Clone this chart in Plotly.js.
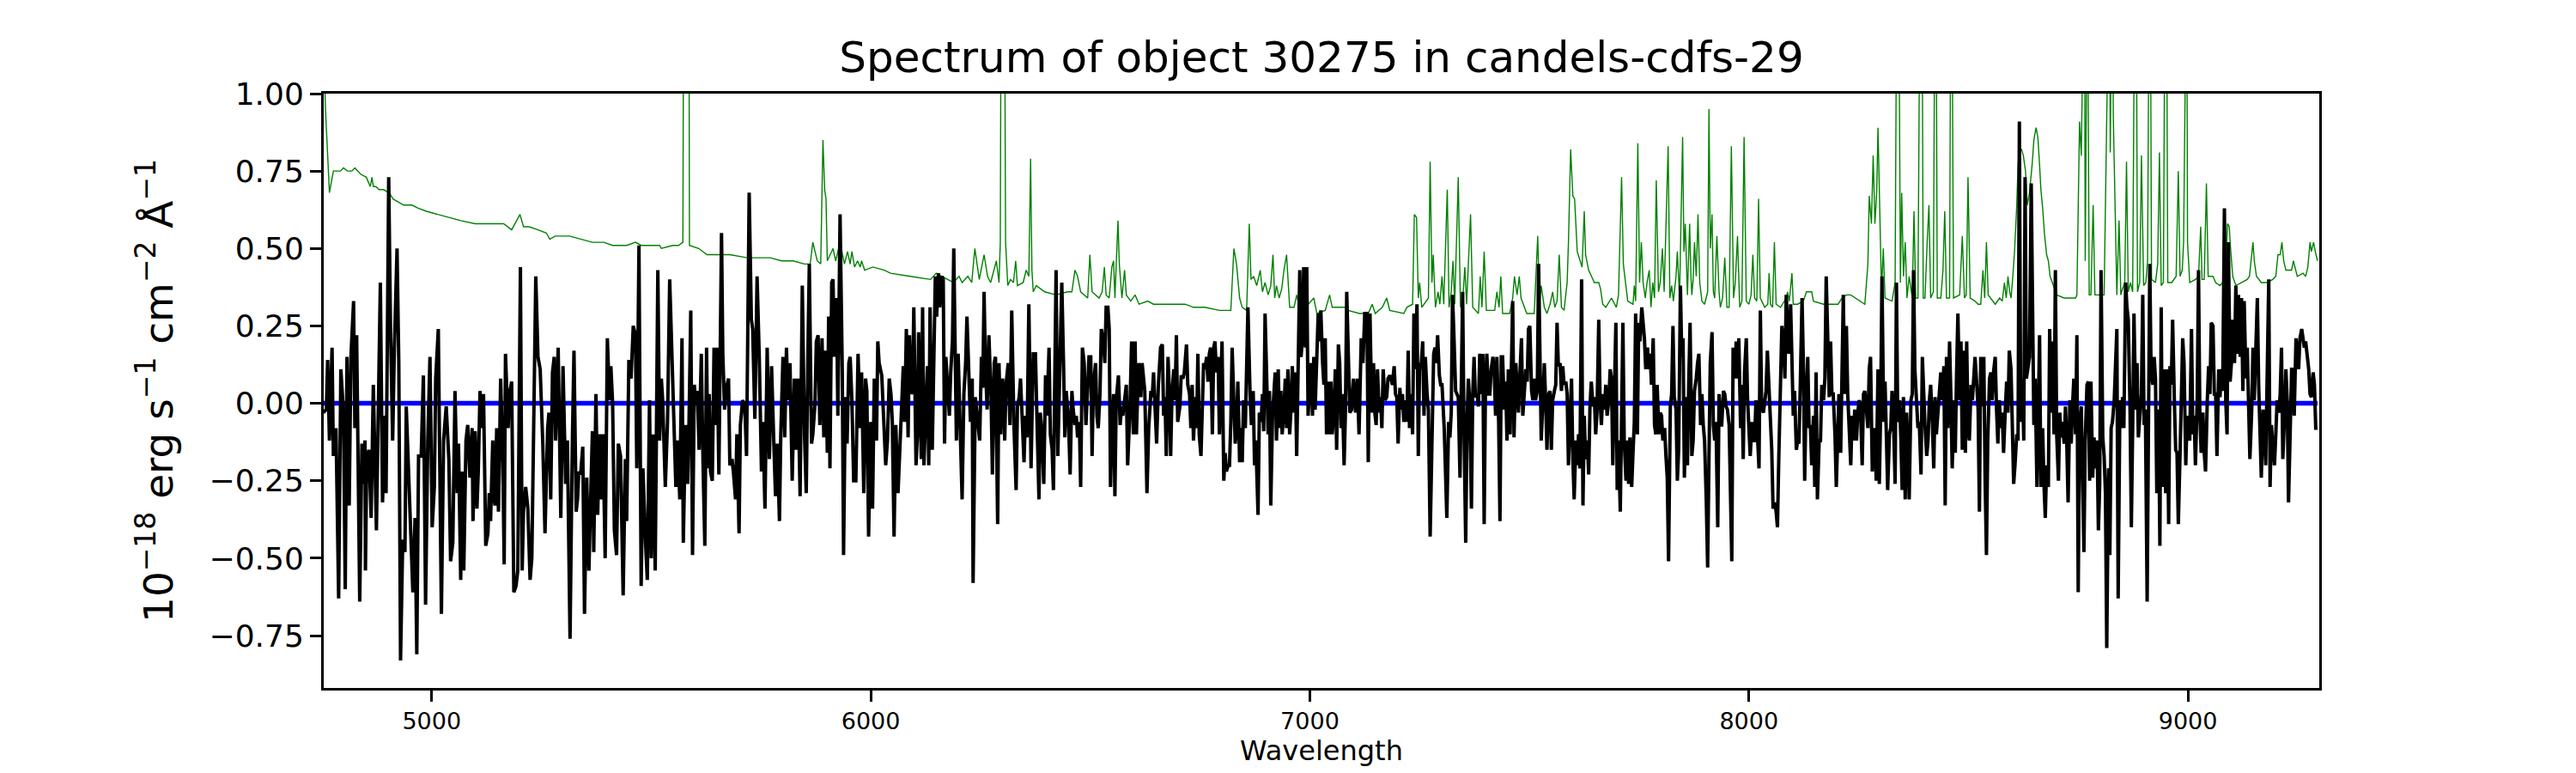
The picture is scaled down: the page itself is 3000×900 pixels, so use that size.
<!DOCTYPE html>
<html>
<head>
<meta charset="utf-8">
<script src="https://cdn.plot.ly/plotly-3.0.1.min.js"></script>
<style>html,body{margin:0;padding:0;background:#fff;}#chart{width:3000px;height:900px;}</style>
</head>
<body>
<div id="chart"></div>
<script>
// Object spectrum: [wavelength (Å), flux (1e-18 erg/s/cm2/Å)]
const objectSpectrum = [
[4753,-0.03],[4760,-0.02],[4763,0.14],[4767,-0.12],[4773,0.18],[4776,-0.17],[4782,-0.08],[4788,-0.63],[4793,0.11],[4799,-0.03],
[4803,-0.60],[4807,0.15],[4812,-0.33],[4816,0.15],[4822,0.33],[4825,-0.08],[4829,0.22],[4836,-0.64],[4841,-0.13],[4844,-0.26],
[4848,-0.12],[4849,-0.54],[4852,-0.18],[4857,-0.15],[4862,-0.37],[4867,0.06],[4874,-0.41],[4877,-0.10],[4883,0.39],[4888,-0.32],
[4893,-0.04],[4896,-0.29],[4902,0.73],[4906,0.26],[4911,-0.12],[4915,0.18],[4921,0.50],[4925,0.13],[4929,-0.83],[4934,-0.44],
[4939,-0.48],[4942,-0.01],[4949,-0.29],[4952,-0.43],[4957,-0.61],[4962,-0.37],[4966,-0.81],[4970,-0.17],[4976,-0.17],[4981,0.09],
[4986,-0.65],[4991,-0.12],[4996,0.15],[5001,-0.40],[5006,-0.27],[5009,0.08],[5015,0.24],[5022,-0.68],[5027,-0.12],[5033,-0.01],
[5039,-0.18],[5043,-0.51],[5048,-0.45],[5053,0.04],[5058,-0.29],[5061,-0.13],[5066,-0.57],[5069,-0.22],[5073,-0.54],[5078,-0.12],
[5082,-0.07],[5087,-0.24],[5092,-0.08],[5094,-0.38],[5099,-0.09],[5103,-0.34],[5106,-0.22],[5110,0.04],[5113,-0.08],[5118,0.03],
[5123,-0.46],[5128,-0.42],[5131,-0.29],[5134,-0.38],[5139,-0.12],[5141,-0.29],[5144,-0.33],[5148,-0.08],[5152,-0.35],[5157,0.08],
[5162,-0.19],[5165,-0.52],[5168,0.16],[5174,-0.08],[5177,0.03],[5182,0.07],[5187,-0.61],[5192,-0.59],[5196,-0.54],[5202,0.44],
[5206,-0.54],[5209,-0.35],[5214,-0.27],[5219,-0.34],[5224,-0.57],[5228,-0.50],[5232,-0.06],[5237,0.41],[5242,0.15],[5247,0.11],
[5253,-0.13],[5258,-0.42],[5264,-0.08],[5267,-0.03],[5271,-0.31],[5275,0.10],[5279,0.15],[5282,-0.12],[5288,0.18],[5291,-0.13],
[5294,-0.37],[5299,0.12],[5305,-0.26],[5309,-0.12],[5315,-0.76],[5320,-0.15],[5324,0.17],[5329,-0.35],[5332,-0.31],[5335,-0.22],
[5339,-0.23],[5344,-0.14],[5348,-0.68],[5353,-0.24],[5358,-0.54],[5363,-0.25],[5366,-0.09],[5369,-0.48],[5374,0.03],[5378,-0.36],
[5382,-0.10],[5385,-0.31],[5390,-0.10],[5395,-0.50],[5400,0.21],[5405,0.01],[5408,0.12],[5412,0.00],[5416,-0.41],[5421,-0.49],
[5425,-0.13],[5430,-0.17],[5436,-0.62],[5441,-0.18],[5444,-0.38],[5449,0.14],[5454,0.08],[5459,0.25],[5464,0.22],[5467,-0.21],
[5472,0.51],[5477,-0.59],[5481,-0.21],[5487,-0.45],[5491,-0.57],[5496,0.01],[5500,-0.50],[5504,-0.10],[5509,-0.54],[5515,0.43],
[5519,-0.12],
[5523,0.08],[5526,0.01],[5532,-0.27],[5537,-0.06],[5542,0.40],[5547,0.13],[5552,-0.12],[5556,-0.27],[5560,-0.12],[5565,-0.31],
[5570,0.21],[5573,-0.45],[5578,-0.07],[5583,-0.26],[5586,-0.06],[5590,0.30],[5594,-0.49],[5598,0.06],[5601,0.01],[5605,0.04],
[5609,-0.15],[5614,0.16],[5618,-0.20],[5622,-0.46],[5626,0.18],[5629,-0.21],[5632,0.03],[5635,-0.22],[5639,-0.25],[5643,0.18],
[5646,-0.07],[5650,0.18],[5654,-0.23],[5660,0.55],[5663,0.16],[5667,-0.02],[5671,0.05],[5676,0.08],[5679,-0.20],[5684,-0.18],
[5687,-0.22],[5692,-0.31],[5695,-0.10],[5700,-0.42],[5703,-0.07],[5708,0.01],[5713,-0.01],[5717,-0.17],[5723,0.68],[5728,0.27],
[5731,0.24],[5736,-0.05],[5741,0.41],[5746,0.15],[5751,-0.22],[5754,-0.06],[5759,-0.34],[5764,0.18],[5769,-0.18],[5774,0.12],
[5779,-0.12],[5783,-0.30],[5787,-0.13],[5792,-0.38],[5795,-0.10],[5800,0.15],[5804,-0.11],[5808,0.18],[5811,0.01],[5816,0.13],
[5821,-0.25],[5826,0.08],[5830,-0.15],[5834,0.08],[5839,-0.30],[5844,0.38],[5849,-0.10],[5853,-0.29],[5857,0.18],[5860,0.45],
[5865,-0.13],[5868,-0.10],[5873,0.00],[5876,0.20],[5880,0.22],[5884,-0.07],[5889,0.21],[5893,-0.11],[5897,0.17],[5901,-0.16],
[5904,0.28],[5907,-0.21],[5911,0.39],[5914,0.40],[5917,0.15],[5922,0.34],[5925,-0.04],[5930,0.61],[5935,0.11],[5938,-0.49],
[5942,0.02],[5946,-0.13],[5950,0.13],[5953,0.15],[5957,0.01],[5961,-0.25],[5966,-0.25],[5971,0.16],[5976,-0.08],[5979,0.10],
[5984,-0.29],[5988,0.08],[5991,0.04],[5995,-0.43],[6000,-0.06],[6004,-0.34],[6008,0.08],[6013,-0.12],[6016,0.20],[6019,0.13],
[6025,0.09],[6030,-0.10],[6034,-0.20],[6038,-0.12],[6042,0.08],[6046,0.03],[6049,-0.06],[6053,-0.43],[6057,-0.07],[6062,-0.29],
[6067,-0.12],[6070,0.01],[6074,0.12],[6077,-0.06],[6081,0.24],[6085,-0.11],[6088,0.22],[6092,0.03],[6095,0.04],[6098,0.31],
[6103,-0.20],[6106,-0.11],[6109,0.23],[6115,-0.18],[6118,0.31],[6121,-0.20],[6126,0.01],[6129,0.12],[6132,-0.20],[6135,0.31],
[6140,-0.15],[6144,0.15],[6147,0.41],[6150,0.28],[6154,0.42],[6157,0.31],[6162,0.41],[6165,0.40],[6168,-0.13],[6171,0.15],
[6175,0.06],[6179,-0.04],[6182,0.10],[6186,0.20],[6189,0.50],[6192,0.16],[6195,-0.12],[6199,0.16],[6204,-0.16],[6208,-0.31],
[6212,0.03],[6216,0.13],[6219,0.28],[6223,0.06],[6227,-0.06],[6231,0.08],[6233,-0.58],[6238,0.02],[6243,-0.04],[6248,-0.12],
[6252,0.15],[6255,0.05],[6258,0.36],[6261,0.13],[6265,-0.02],[6269,0.22],[6274,0.02],[6277,-0.23],[6281,0.13],[6284,0.15],
[6289,-0.39],[6292,0.13],[6296,-0.10],[6300,0.08],[6303,0.03],
[6305,-0.12],[6308,0.06],[6313,0.13],[6317,-0.07],[6321,0.30],[6326,-0.07],[6331,-0.28],[6334,-0.01],[6338,0.02],[6341,0.08],
[6344,-0.03],[6349,-0.19],[6352,-0.04],[6356,-0.11],[6360,0.32],[6365,-0.21],[6370,0.16],[6375,0.16],[6379,-0.08],[6383,-0.31],
[6386,-0.03],[6390,-0.10],[6394,-0.26],[6398,0.09],[6401,-0.04],[6406,0.18],[6409,-0.10],[6413,-0.15],[6416,-0.28],[6419,0.11],
[6422,0.43],[6426,-0.17],[6429,0.03],[6432,0.12],[6435,0.39],[6439,0.13],[6442,-0.11],[6445,0.04],[6450,-0.04],[6454,-0.23],
[6458,0.04],[6461,-0.02],[6465,-0.07],[6468,-0.04],[6471,-0.11],[6475,-0.06],[6478,-0.27],[6482,0.18],[6486,0.13],[6490,-0.07],
[6494,0.10],[6497,0.15],[6501,0.15],[6504,-0.17],[6507,0.06],[6512,0.13],[6515,-0.04],[6518,-0.08],[6522,0.03],[6525,0.24],
[6530,0.20],[6533,0.13],[6536,0.31],[6540,0.31],[6543,0.24],[6546,-0.27],[6549,-0.10],[6553,0.03],[6556,-0.30],[6559,0.01],
[6564,0.09],[6568,-0.07],[6571,-0.01],[6574,-0.04],[6578,0.01],[6582,0.06],[6585,-0.20],[6590,-0.03],[6594,0.20],[6598,-0.10],
[6602,0.20],[6605,-0.10],[6610,0.13],[6615,0.02],[6618,0.13],[6621,0.08],[6624,0.04],[6629,-0.29],[6633,-0.08],[6638,0.04],
[6641,0.02],[6644,0.10],[6647,0.01],[6651,-0.13],[6655,0.06],[6660,0.18],[6664,0.19],[6667,-0.04],[6670,0.02],[6673,-0.17],
[6677,0.15],[6680,0.04],[6683,-0.17],[6686,0.03],[6690,0.11],[6693,0.01],[6696,0.22],[6699,-0.06],[6704,-0.01],[6707,0.09],
[6711,0.08],[6714,0.10],[6719,0.19],[6722,0.06],[6726,0.03],[6729,-0.08],[6732,0.06],[6735,-0.12],[6739,0.02],[6742,-0.08],
[6745,0.16],[6748,-0.10],[6752,-0.17],[6755,0.01],[6758,0.13],[6761,0.11],[6765,0.15],[6768,0.07],[6771,0.16],[6774,0.18],
[6778,-0.10],[6781,0.18],[6784,0.20],[6787,0.10],[6791,0.15],[6794,-0.10],[6797,0.03],[6800,0.20],[6804,-0.25],[6807,-0.16],
[6810,-0.22],[6814,-0.20],[6817,-0.20],[6820,-0.06],[6823,0.18],[6827,-0.01],[6830,-0.13],[6833,-0.08],[6836,0.07],[6840,-0.19],
[6843,-0.08],[6846,-0.19],[6849,0.01],[6853,-0.08],[6856,0.15],[6859,0.31],[6864,0.02],[6867,-0.07],[6871,0.04],[6874,-0.20],
[6877,-0.12],[6882,-0.36],[6885,-0.03],[6889,-0.06],[6892,0.03],[6895,-0.09],[6898,0.29],[6902,0.01],[6905,-0.10],[6908,0.04],
[6911,-0.33],[6915,-0.04],[6918,0.06],[6921,0.10],[6924,-0.12],[6928,0.11],[6931,-0.08],[6934,0.04],[6937,-0.10],[6941,-0.02],
[6944,0.08],[6947,-0.08],[6950,0.11],[6954,-0.10],[6957,-0.02],[6960,0.12],[6964,-0.03],[6967,0.10],[6970,-0.17],[6973,0.17],
[6977,0.43],[6980,0.15],[6983,0.21],[6986,0.44],[6990,0.18],[6993,0.44],[6996,-0.04],[7000,0.06],[7003,0.13],[7006,-0.04],
[7009,0.15],[7012,-0.02],[7016,0.13],[7019,0.29],[7022,0.20],[7025,0.30],[7029,0.13],[7032,0.06],[7035,0.21],[7038,-0.10],
[7042,0.07],[7045,-0.10],[7048,0.07],[7051,-0.10],[7055,-0.02],[7058,0.11],[7061,-0.15],[7065,0.19],[7068,0.13],[7071,-0.08],
[7074,0.03],[7078,-0.20],[7081,-0.03],[7084,0.36],
[7091,-0.03],[7095,-0.02],[7099,0.08],[7104,-0.03],[7108,0.08],[7112,-0.10],[7117,0.21],[7121,0.13],[7125,0.29],[7130,0.29],
[7133,-0.19],[7137,0.29],[7141,-0.03],[7145,0.13],[7148,-0.03],[7151,-0.07],[7154,0.11],[7158,-0.03],[7161,0.02],[7164,-0.08],
[7167,0.11],[7171,0.01],[7175,0.02],[7178,0.08],[7182,0.09],[7185,0.08],[7188,0.06],[7192,0.12],[7195,0.03],[7198,0.02],
[7201,-0.13],[7205,0.05],[7208,-0.02],[7211,0.03],[7214,-0.06],[7218,0.01],[7221,-0.06],[7224,0.17],[7227,-0.08],[7231,0.03],
[7234,-0.10],[7237,0.29],[7240,0.11],[7244,0.32],[7247,-0.17],[7250,0.13],[7253,0.11],[7257,0.20],[7260,-0.04],[7263,0.15],
[7267,0.03],[7270,-0.02],[7274,-0.43],[7278,-0.12],[7282,0.16],[7285,0.18],[7288,0.13],[7291,0.22],[7295,0.09],[7298,0.06],
[7301,0.06],[7306,-0.08],[7309,-0.20],[7312,-0.37],[7316,-0.06],[7319,-0.11],[7322,-0.03],[7325,0.35],[7329,0.18],[7332,0.04],
[7335,0.03],[7338,0.02],[7342,-0.24],[7345,0.04],[7348,0.36],[7351,-0.08],[7355,-0.45],[7358,-0.06],[7361,0.08],[7364,0.01],
[7368,-0.34],[7371,0.03],[7374,0.15],[7377,0.02],[7381,0.03],[7384,-0.01],[7387,0.16],[7390,0.03],[7394,0.16],[7397,-0.39],
[7400,0.06],[7403,0.16],[7407,0.03],[7410,0.03],[7413,0.11],[7417,0.15],[7420,0.10],[7423,-0.04],[7426,0.15],[7430,-0.06],
[7433,-0.38],[7436,0.15],[7439,0.15],[7443,-0.02],[7446,0.07],[7449,-0.12],[7452,0.11],[7456,-0.10],[7459,0.16],[7462,0.33],
[7465,-0.11],[7469,0.13],[7472,0.06],[7475,-0.03],[7478,0.08],[7482,0.21],[7485,-0.04],[7488,0.03],[7492,0.11],[7495,0.07],
[7498,0.24],[7501,0.25],[7505,0.04],[7508,0.01],[7511,0.08],[7514,0.01],[7518,0.04],[7521,0.45],[7524,0.03],[7527,-0.12],
[7531,0.02],[7534,0.13],[7537,0.01],[7540,-0.15],[7544,0.03],[7547,0.04],[7550,-0.15],[7553,0.01],[7557,0.04],[7560,0.06],
[7563,0.26],[7566,0.12],[7570,0.13],[7573,0.04],[7576,0.12],[7579,0.06],[7583,0.07],[7586,0.03],[7589,-0.20],[7593,-0.07],
[7596,0.08],[7599,-0.18],[7602,-0.31],[7606,-0.12],[7609,-0.20],[7612,-0.10],[7615,-0.21],[7619,0.40],[7622,-0.33],[7625,-0.04],
[7628,-0.18],[7632,-0.12],[7635,-0.23],[7638,-0.01],[7641,0.07],[7645,-0.01],[7648,0.02],[7651,-0.10],[7654,-0.03],[7658,0.27],
[7661,0.01],[7664,-0.07],[7667,0.03],[7671,-0.02],[7674,0.06],[7677,-0.04],[7681,0.01],[7684,0.11],[7687,0.08],[7690,-0.20],
[7694,0.10],[7697,0.26],[7700,-0.28],[7703,-0.12],[7707,-0.35],[7710,-0.12],[7713,0.26],[7716,-0.12],[7720,-0.25],[7723,-0.12],
[7726,-0.26],[7729,-0.11],[7733,-0.27],[7736,-0.16],[7739,-0.06],[7742,0.29],[7746,-0.10],[7749,0.26],[7752,0.20],[7756,0.31],
[7759,0.25],[7762,0.21],[7765,0.11],[7769,0.18],[7772,0.11],[7775,0.16],[7778,0.06],[7782,0.21],[7785,-0.07],[7788,-0.10],
[7791,0.06],[7795,-0.10],[7798,-0.03],[7801,-0.04],[7804,-0.12],[7808,-0.08],[7811,-0.17],[7814,-0.24],[7817,-0.51],[7821,-0.01],
[7824,0.03],[7827,0.25],[7830,0.02],[7834,-0.02],[7837,-0.25],[7840,-0.15],[7844,0.38],[7847,0.15],[7850,0.21],[7853,-0.24],
[7857,0.02],[7860,-0.20],[7863,0.07],[7866,0.26],
[7870,-0.17],[7873,-0.12],[7876,0.04],[7880,0.08],[7883,0.13],[7886,0.16],[7890,-0.07],[7893,0.03],[7896,-0.07],[7899,-0.12],
[7903,-0.32],[7906,-0.53],[7909,-0.18],[7912,0.13],[7916,0.23],[7919,-0.07],[7922,-0.12],[7925,-0.06],[7929,-0.40],[7932,0.03],
[7935,-0.07],[7938,-0.07],[7942,0.04],[7945,0.03],[7948,-0.01],[7951,-0.02],[7955,-0.07],[7958,-0.25],[7961,-0.51],[7964,0.18],
[7968,0.08],[7971,0.20],[7974,0.08],[7977,0.21],[7981,-0.08],[7984,0.06],[7987,-0.18],[7990,0.10],[7994,0.21],[7997,0.01],
[8000,-0.08],[8003,-0.17],[8007,-0.06],[8010,-0.12],[8013,-0.12],[8016,0.01],[8020,-0.12],[8023,-0.21],[8026,0.30],[8029,-0.01],
[8033,-0.03],[8036,0.01],[8039,0.04],[8042,0.17],[8046,0.06],[8049,-0.04],[8052,-0.15],[8055,-0.34],[8059,-0.32],[8062,-0.35],
[8065,-0.40],[8068,-0.18],[8072,0.06],[8075,0.25],[8078,0.21],[8082,0.08],[8085,0.35],[8088,0.26],[8091,0.16],[8095,0.32],
[8098,0.15],[8101,-0.04],[8104,0.04],[8108,-0.15],[8111,-0.12],[8114,-0.13],[8117,0.06],[8121,0.34],[8124,0.13],[8127,-0.25],
[8130,0.01],[8134,0.15],[8137,-0.08],[8140,-0.07],[8143,-0.20],[8147,-0.04],[8150,-0.27],[8153,0.10],[8156,-0.31],[8160,-0.12],
[8163,-0.12],[8166,0.06],[8170,0.01],[8173,0.08],[8176,0.41],[8179,0.21],[8183,0.02],[8186,0.20],[8189,0.03],[8192,0.03],
[8196,-0.10],[8199,-0.27],[8202,-0.11],[8205,0.03],[8209,-0.16],[8212,0.06],[8215,0.35],[8218,0.03],[8222,0.25],[8225,0.03],
[8228,-0.08],[8232,-0.20],[8235,-0.04],[8238,-0.12],[8241,-0.02],[8245,-0.12],[8248,-0.03],[8251,0.01],[8254,-0.01],[8258,-0.20],
[8261,0.03],[8264,0.04],[8267,-0.01],[8271,-0.08],[8274,0.11],[8277,0.15],[8281,-0.22],[8284,-0.08],[8287,-0.11],[8290,-0.25],
[8294,0.11],[8297,-0.26],[8300,-0.03],[8303,0.41],[8307,-0.06],[8310,0.07],[8313,-0.10],[8316,-0.28],[8320,-0.10],[8323,-0.08],
[8326,0.04],[8329,-0.04],[8333,-0.26],[8336,0.39],[8339,-0.06],[8343,0.01],[8346,-0.11],[8349,-0.28],[8352,0.02],[8356,-0.31],
[8359,-0.03],[8362,-0.12],[8365,-0.31],[8369,0.01],[8372,0.03],[8375,0.43],[8378,0.11],[8382,-0.02],[8385,-0.08],[8388,-0.06],
[8392,-0.23],[8395,0.15],[8398,0.02],[8401,-0.07],[8405,-0.17],[8408,-0.12],[8411,0.01],[8414,0.06],[8418,-0.07],[8421,-0.21],
[8424,0.02],[8427,-0.10],[8431,-0.02],[8434,0.03],[8437,0.10],[8440,0.01],[8444,0.12],[8447,-0.33],[8450,0.15],[8453,-0.08],
[8457,0.20],[8460,0.02],[8463,-0.21],[8467,0.01],[8470,-0.16],[8473,0.10],[8476,0.29],[8480,0.01],[8483,0.20],[8486,-0.15],
[8489,0.17],[8493,-0.16],[8496,0.20],[8499,-0.07],[8502,-0.12],[8506,0.06],[8509,0.01],[8512,0.08],[8515,0.15],[8519,0.06],
[8522,-0.02],[8525,-0.35],[8528,0.15],[8532,-0.01],[8535,0.15],
[8538,-0.25],[8541,-0.49],[8544,-0.12],[8548,0.08],[8551,0.10],[8554,0.01],[8557,0.10],[8561,0.15],[8564,-0.02],[8567,-0.13],
[8570,0.01],[8574,-0.08],[8577,-0.03],[8580,-0.16],[8584,-0.02],[8587,0.07],[8590,-0.03],[8593,0.17],[8597,0.11],[8600,-0.07],
[8603,-0.26],[8606,-0.20],[8610,-0.10],[8613,-0.12],[8616,0.91],[8619,-0.06],[8623,0.08],[8626,-0.12],[8629,0.73],[8632,0.08],
[8636,0.13],[8639,0.15],[8643,0.71],[8646,0.20],[8649,-0.07],[8652,0.08],[8656,-0.27],[8659,-0.04],[8662,0.22],[8665,-0.27],
[8669,-0.08],[8672,-0.26],[8675,-0.37],[8678,-0.20],[8682,-0.27],[8685,0.24],[8688,-0.03],[8691,0.20],[8695,-0.10],[8698,0.43],
[8701,-0.10],[8705,-0.25],[8708,-0.03],[8711,-0.11],[8714,-0.06],[8718,-0.13],[8721,-0.01],[8724,-0.13],[8727,-0.32],[8731,0.01],
[8734,-0.13],[8737,-0.01],[8740,0.08],[8744,-0.10],[8747,0.22],[8750,-0.61],[8753,-0.08],[8757,-0.01],[8760,-0.25],[8763,-0.48],
[8766,-0.12],[8770,0.06],[8773,0.07],[8776,-0.25],[8779,0.07],[8783,-0.24],[8786,-0.11],[8789,-0.21],[8793,-0.12],[8796,-0.41],
[8799,-0.26],[8802,0.43],[8806,-0.11],[8809,-0.17],[8812,-0.29],[8815,-0.79],[8819,-0.21],[8822,-0.49],[8825,-0.08],[8828,-0.06],
[8832,0.01],[8835,0.15],[8838,0.24],[8841,-0.63],[8845,0.01],[8848,-0.08],[8851,0.02],[8854,-0.08],[8858,0.39],[8861,0.31],
[8864,0.27],[8868,-0.02],[8871,-0.40],[8874,-0.08],[8877,0.29],[8881,-0.02],[8884,0.13],[8887,-0.11],[8890,-0.04],[8894,0.03],
[8897,0.35],[8900,-0.07],[8903,-0.02],[8907,-0.64],[8910,-0.08],[8913,0.45],[8916,0.10],[8920,0.06],[8923,0.15],[8926,0.08],
[8929,-0.29],[8933,-0.02],[8936,-0.46],[8939,0.31],[8942,-0.27],[8946,0.11],[8949,-0.29],[8952,0.11],[8956,-0.39],[8959,0.12],
[8962,0.06],[8965,0.27],[8969,0.01],[8972,-0.15],[8975,-0.16],[8978,-0.39],[8982,-0.16],[8985,0.03],[8988,0.21],[8991,0.13],
[8995,-0.20],[8998,-0.04],[9001,-0.10],[9004,-0.12],[9008,0.24],[9011,-0.10],[9014,-0.04],[9017,-0.20],[9021,0.01],[9024,0.43],
[9027,-0.03],[9030,-0.16],[9034,-0.03],[9037,-0.16],[9040,-0.22],[9044,0.01],[9047,0.12],[9050,0.03],[9053,0.26],[9057,0.25],
[9060,0.03],[9063,0.03],[9066,-0.17],[9070,0.11],[9073,0.02],[9076,0.11],[9079,0.04],[9083,0.63],[9086,0.01],[9089,-0.10],
[9092,0.52],[9096,0.07],[9099,0.13],[9102,0.27],[9106,0.13],[9109,0.38],[9112,0.16],[9115,0.35],[9119,0.15],[9122,0.34],
[9125,0.04],[9128,0.33],[9132,0.08],[9135,0.18],[9138,-0.08],[9141,-0.18],[9145,-0.03],[9148,0.18],[9151,0.01],[9154,0.15],
[9158,0.34],[9161,0.06],[9164,-0.16],[9167,-0.24],[9171,-0.02],[9174,-0.08],[9177,-0.20],[9180,0.01],[9184,0.40],[9187,-0.27],
[9190,-0.07],[9193,-0.13],[9197,-0.20],[9200,-0.10],[9203,0.01],[9207,-0.03],[9210,0.03],[9213,0.18],[9216,-0.18],[9220,-0.04],
[9223,0.11],[9226,0.01],[9229,-0.32],[9233,-0.08],[9236,0.11],[9239,0.11],[9242,-0.04],[9246,0.21],[9249,0.16],[9252,0.11],
[9255,0.21],[9259,0.24],[9262,0.21],[9265,0.18],[9268,0.20],[9272,0.15],[9275,0.11],[9278,0.03],[9281,0.02],[9285,0.10],
[9288,0.06],[9291,-0.08],[9295,-0.08]
];

// Sky / noise spectrum (green): [wavelength (Å), flux]
const skySpectrum = [
[4753,1.2],[4758,0.95],[4767,0.68],[4776,0.75],[4792,0.75],[4799,0.76],[4808,0.75],[4818,0.75],[4825,0.76],[4838,0.74],
[4851,0.73],[4860,0.70],[4864,0.73],[4867,0.70],[4873,0.70],[4880,0.69],[4890,0.69],[4903,0.68],[4912,0.66],[4923,0.65],
[4936,0.64],[4955,0.64],[4969,0.63],[4988,0.62],[5014,0.61],[5040,0.60],[5066,0.59],[5099,0.58],[5131,0.58],[5164,0.58],
[5182,0.56],[5190,0.58],[5201,0.61],[5209,0.57],[5222,0.57],[5242,0.56],[5261,0.55],[5269,0.53],[5281,0.54],[5314,0.54],
[5340,0.53],[5366,0.52],[5392,0.52],[5412,0.51],[5444,0.51],[5464,0.52],[5477,0.51],[5519,0.51],
[5523,0.50],[5549,0.51],[5562,0.51],[5572,0.52],[5575,2.0],[5585,2.0],[5587,0.51],[5608,0.50],[5627,0.48],[5653,0.48],
[5679,0.48],[5719,0.47],[5771,0.47],[5797,0.46],[5823,0.46],[5849,0.45],[5862,0.45],[5868,0.52],[5878,0.46],[5886,0.45],
[5891,0.85],[5895,0.69],[5898,0.66],[5901,0.46],[5914,0.50],[5920,0.46],[5930,0.52],[5940,0.45],[5947,0.49],[5953,0.45],
[5957,0.49],[5963,0.44],[5970,0.46],[5976,0.44],[5979,0.46],[5986,0.43],[6005,0.44],[6031,0.43],[6045,0.42],[6090,0.41],
[6136,0.40],[6149,0.42],[6162,0.41],[6175,0.40],[6188,0.39],[6201,0.41],[6208,0.39],[6221,0.41],[6230,0.39],[6237,0.50],
[6247,0.40],[6258,0.48],[6266,0.41],[6273,0.39],[6286,0.46],[6292,0.39],[6295,0.52],[6298,2.0],[6303,2.0],[6307,0.52],
[6312,0.38],[6318,0.40],[6325,0.39],[6330,0.46],[6334,0.38],[6347,0.39],[6354,0.43],[6360,0.41],[6364,0.79],[6367,0.43],
[6370,0.36],[6377,0.38],[6386,0.37],[6396,0.36],[6422,0.35],[6448,0.36],[6458,0.36],[6465,0.43],[6471,0.41],[6478,0.36],
[6494,0.34],[6499,0.48],[6504,0.36],[6520,0.34],[6527,0.36],[6532,0.44],[6536,0.35],[6543,0.34],[6549,0.44],[6553,0.46],
[6556,0.34],[6563,0.59],[6566,0.45],[6572,0.34],[6578,0.43],[6582,0.35],[6592,0.33],[6602,0.35],[6611,0.32],[6631,0.33],
[6644,0.32],[6683,0.32],[6716,0.32],[6735,0.31],[6761,0.31],[6794,0.30],[6820,0.30],[6827,0.50],[6833,0.45],[6840,0.34],
[6846,0.31],[6856,0.30],[6862,0.58],[6866,0.40],[6872,0.41],[6879,0.38],[6887,0.43],[6892,0.36],[6898,0.39],[6905,0.35],
[6911,0.38],[6916,0.48],[6920,0.34],[6924,0.38],[6930,0.34],[6936,0.37],[6941,0.43],[6947,0.48],[6954,0.31],[6964,0.31],
[6970,0.35],[6977,0.30],[6990,0.31],[7009,0.34],[7016,0.29],[7035,0.30],[7045,0.35],[7051,0.31],[7074,0.31],[7084,0.31],
[7087,0.30],[7113,0.29],[7133,0.29],[7142,0.32],[7149,0.29],[7165,0.31],[7175,0.34],[7182,0.30],[7214,0.29],[7221,0.31],
[7234,0.32],[7238,0.61],[7243,0.60],[7247,0.34],[7250,0.39],[7255,0.31],[7270,0.34],[7274,0.78],[7278,0.39],[7281,0.48],
[7286,0.31],[7292,0.36],[7296,0.32],[7301,0.41],[7305,0.32],[7313,0.69],[7317,0.31],[7322,0.36],[7326,0.46],[7330,0.32],
[7338,0.73],[7343,0.31],[7348,0.33],[7353,0.44],[7357,0.32],[7366,0.61],[7371,0.31],[7384,0.29],[7388,0.41],[7392,0.31],
[7397,0.49],[7402,0.30],[7421,0.30],[7426,0.36],[7431,0.31],[7435,0.41],[7439,0.29],[7455,0.29],[7462,0.34],[7466,0.41],
[7472,0.35],[7477,0.41],[7481,0.34],[7494,0.29],[7511,0.29],[7519,0.54],[7523,0.32],[7527,0.38],[7534,0.31],[7540,0.29],
[7547,0.32],[7553,0.36],[7558,0.31],[7563,0.33],[7568,0.48],[7573,0.31],[7579,0.30],[7586,0.39],[7589,0.52],[7594,0.82],
[7599,0.67],[7603,0.66],[7609,0.49],[7615,0.46],[7620,0.44],[7625,0.62],[7628,0.48],[7635,0.43],[7648,0.39],[7658,0.39],
[7662,0.37],[7667,0.32],[7674,0.31],[7687,0.34],[7698,0.31],[7703,0.35],[7710,0.73],[7714,0.45],[7719,0.39],[7724,0.33],
[7736,0.32],[7739,0.38],[7742,0.33],[7747,0.84],[7751,0.39],[7755,0.52],[7759,0.39],[7764,0.34],[7768,0.39],[7773,0.43],
[7777,0.31],[7781,0.39],[7785,0.34],[7789,0.72],[7794,0.36],[7798,0.39],[7803,0.50],[7807,0.36],[7816,0.83],[7820,0.34],
[7824,0.38],[7828,0.33],[7834,0.41],[7837,0.49],[7842,0.34],[7849,0.86],[7852,0.49],[7855,0.58],[7860,0.35],[7865,0.58],
[7868,0.41],
[7870,0.35],[7873,0.40],[7876,0.52],[7880,0.41],[7884,0.61],[7888,0.39],[7893,0.33],[7899,0.32],[7906,0.36],[7909,0.95],
[7912,0.50],[7916,0.61],[7919,0.36],[7922,0.34],[7927,0.54],[7932,0.36],[7935,0.31],[7940,0.34],[7945,0.47],[7950,0.31],
[7955,0.31],[7960,0.83],[7965,0.34],[7969,0.39],[7974,0.54],[7979,0.31],[7984,0.33],[7989,0.86],[7994,0.33],[8000,0.32],
[8005,0.35],[8009,0.48],[8013,0.34],[8018,0.33],[8022,0.66],[8026,0.34],[8036,0.31],[8043,0.32],[8046,0.42],[8049,0.32],
[8054,0.31],[8058,0.52],[8062,0.32],[8072,0.31],[8085,0.34],[8088,0.36],[8092,0.33],[8098,0.42],[8101,0.32],[8111,0.32],
[8124,0.33],[8131,0.36],[8137,0.36],[8143,0.36],[8147,0.33],[8170,0.32],[8193,0.32],[8203,0.32],[8212,0.34],[8222,0.35],
[8232,0.35],[8242,0.34],[8264,0.32],[8271,0.45],[8274,0.67],[8279,0.58],[8283,0.80],[8287,0.58],[8291,0.68],[8294,0.89],
[8298,0.64],[8302,0.36],[8306,0.50],[8310,0.34],[8326,0.33],[8333,0.39],[8337,1.5],[8341,1.5],[8345,0.39],[8348,0.68],
[8352,0.41],[8356,0.52],[8360,0.34],[8365,0.41],[8372,0.34],[8376,0.62],[8380,0.34],[8385,0.34],[8390,1.5],[8394,1.5],
[8397,0.34],[8401,0.34],[8406,0.52],[8410,0.64],[8414,0.34],[8420,0.36],[8424,1.5],[8426,1.5],[8429,0.34],[8437,0.34],
[8442,0.43],[8446,0.62],[8450,0.34],[8457,0.34],[8460,1.5],[8462,1.5],[8466,0.34],[8480,0.35],[8486,0.54],[8491,0.34],
[8495,0.35],[8499,0.73],[8504,0.34],[8515,0.33],[8522,0.32],[8528,0.32],[8533,0.43],[8537,0.34],
[8541,0.52],[8545,0.35],[8561,0.32],[8571,0.34],[8577,0.33],[8582,0.39],[8586,0.34],[8590,0.41],[8594,0.36],[8597,0.34],
[8600,0.39],[8605,0.49],[8610,0.64],[8613,0.77],[8616,0.82],[8621,0.82],[8625,0.80],[8630,0.75],[8634,0.64],[8639,0.68],
[8645,0.77],[8649,0.85],[8654,0.89],[8658,0.86],[8662,0.77],[8665,0.69],[8669,0.63],[8673,0.55],[8678,0.48],[8682,0.46],
[8686,0.41],[8691,0.39],[8701,0.35],[8718,0.34],[8731,0.34],[8744,0.34],[8747,0.35],[8753,0.91],[8757,0.80],[8760,1.5],
[8764,1.5],[8766,0.46],[8768,1.5],[8771,1.5],[8775,0.35],[8779,0.35],[8784,0.64],[8788,0.35],[8809,0.35],[8817,1.5],
[8821,1.5],[8823,0.81],[8827,1.5],[8830,0.92],[8834,0.64],[8838,0.35],[8843,0.59],[8847,0.35],[8851,0.37],[8856,0.39],
[8860,0.78],[8864,0.36],[8869,0.39],[8874,0.36],[8879,1.5],[8882,1.5],[8885,0.36],[8890,0.39],[8894,0.80],[8899,0.38],
[8904,0.39],[8908,0.46],[8912,1.5],[8914,1.5],[8917,0.40],[8926,0.39],[8931,0.45],[8935,0.81],[8939,0.38],[8944,0.39],
[8948,1.5],[8951,1.5],[8954,0.39],[8963,0.39],[8973,0.41],[8978,0.75],[8982,0.41],[8987,0.43],[8990,0.52],[8993,1.5],
[8997,1.5],[8999,0.52],[9004,0.39],[9017,0.40],[9024,0.41],[9029,0.57],[9032,0.40],[9037,0.40],[9042,0.71],[9046,0.41],
[9057,0.41],[9063,0.39],[9073,0.38],[9079,0.39],[9086,0.43],[9090,0.58],[9094,0.57],[9097,0.50],[9102,0.41],[9109,0.38],
[9122,0.39],[9135,0.40],[9140,0.41],[9145,0.48],[9148,0.52],[9151,0.46],[9156,0.41],[9167,0.39],[9180,0.39],[9193,0.40],
[9200,0.41],[9205,0.48],[9210,0.48],[9214,0.52],[9218,0.46],[9223,0.43],[9236,0.43],[9240,0.46],[9244,0.44],[9249,0.41],
[9262,0.42],[9268,0.41],[9273,0.44],[9278,0.52],[9281,0.49],[9286,0.52],[9290,0.49],[9295,0.46]
];

// Model (blue) line: flat zero level
const modelWave = [4753, 9295];
const modelFlux = [0, 0];

const xTickVals = [5000, 6000, 7000, 8000, 9000];
const yTickVals = [-0.75, -0.5, -0.25, 0, 0.25, 0.5, 0.75, 1.0];
const xRange = [4754, 9299];
const yRange = [-0.919, 1.0];

const FONT = 'DejaVu Sans, Liberation Sans, sans-serif';

const traces = [
  {x: skySpectrum.map(p => p[0]), y: skySpectrum.map(p => p[1]), type: 'scatter', mode: 'lines',
   line: {color: '#008000', width: 1.4}, hoverinfo: 'skip'},
  {x: modelWave, y: modelFlux, type: 'scatter', mode: 'lines',
   line: {color: '#0000ff', width: 5.5}, hoverinfo: 'skip'},
  {x: objectSpectrum.map(p => p[0]), y: objectSpectrum.map(p => p[1]), type: 'scatter', mode: 'lines',
   line: {color: '#000000', width: 4}, hoverinfo: 'skip'}
];

const layout = {
  width: 3000, height: 900,
  margin: {l: 377, r: 299, t: 109, b: 99, pad: 0},
  paper_bgcolor: '#ffffff', plot_bgcolor: '#ffffff',
  showlegend: false,
  font: {family: FONT, color: '#000000'},
  title: {text: 'Spectrum of object 30275 in candels-cdfs-29', font: {family: FONT, size: 50, color: '#000'},
          x: 0.5, xref: 'paper', y: 1 - 66/900, yref: 'container', yanchor: 'middle'},
  xaxis: {
    range: xRange, tickvals: xTickVals, ticktext: xTickVals.map(String),
    showgrid: false, zeroline: false, showline: true, linecolor: '#000', linewidth: 3, mirror: true,
    ticks: 'outside', ticklen: 13, tickwidth: 3, tickcolor: '#000',
    tickfont: {family: FONT, size: 27, color: '#000'},
    title: {text: 'Wavelength', font: {family: FONT, size: 32, color: '#000'}, standoff: 4}
  },
  yaxis: {
    range: yRange, tickvals: yTickVals, tickformat: '.2f',
    showgrid: false, zeroline: false, showline: true, linecolor: '#000', linewidth: 3, mirror: true,
    ticks: 'outside', ticklen: 13, tickwidth: 3, tickcolor: '#000',
    tickfont: {family: FONT, size: 36, color: '#000'},
    title: {text: '10<sup>−18</sup> erg s<sup>−1</sup> cm<sup>−2</sup> Å<sup>−1</sup>', font: {family: FONT, size: 47, color: '#000'}, standoff: 28}
  }
};

Plotly.newPlot('chart', traces, layout, {displayModeBar: false, staticPlot: true});
</script>
</body>
</html>
